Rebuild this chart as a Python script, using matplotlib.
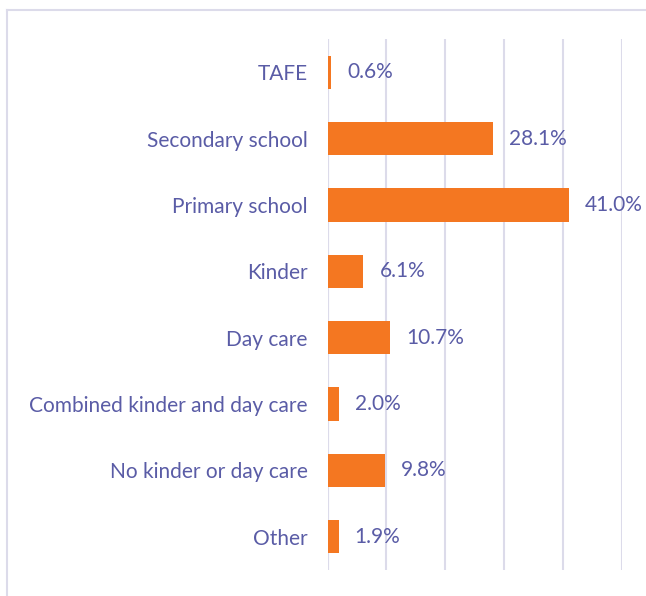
import matplotlib.pyplot as plt
from matplotlib.lines import Line2D

plt.rcParams['font.family'] = ['Lato', 'DejaVu Sans']

# Education setting breakdown (percent)
categories = ['TAFE', 'Secondary school', 'Primary school', 'Kinder', 'Day care',
              'Combined kinder and day care', 'No kinder or day care', 'Other']
values = [0.6, 28.1, 41.0, 6.1, 10.7, 2.0, 9.8, 1.9]

text_color = '#5a5ca6'
bar_color = '#f47721'
grid_color = '#dcdbea'

fig = plt.figure(figsize=(6.46, 5.96), dpi=100)
ax = fig.add_axes([0.507, 0.0436, 0.4554, 0.891])

y = range(len(categories))
ax.barh(y, values, height=0.5, color=bar_color, zorder=3)

for yi, v in zip(y, values):
    ax.annotate(f'{v:.1f}%', (v, yi), xytext=(11.5, 0), textcoords='offset points',
                va='center', ha='left', fontsize=15, color=text_color)

ax.set_xlim(0, 50)
ax.set_ylim(len(categories) - 0.5, -0.5)
ax.set_xticks(range(0, 51, 10))
ax.set_xticklabels([])
ax.set_yticks(list(y))
ax.set_yticklabels(categories, fontsize=15, color=text_color)
ax.tick_params(axis='both', length=0)
ax.tick_params(axis='y', pad=14.5)
ax.grid(axis='x', color=grid_color, linewidth=1.5, zorder=0)
for s in ax.spines.values():
    s.set_visible(False)
ax.axvline(0, color=grid_color, linewidth=1.5, zorder=1)

# light outer frame on the top and left edges
fig.add_artist(Line2D([7 / 646, 7 / 646], [0, 1 - 10 / 596], transform=fig.transFigure,
                      color=grid_color, linewidth=1.5))
fig.add_artist(Line2D([7 / 646, 1], [1 - 10 / 596, 1 - 10 / 596], transform=fig.transFigure,
                      color=grid_color, linewidth=1.5))

fig.savefig('out.png', dpi=100)
